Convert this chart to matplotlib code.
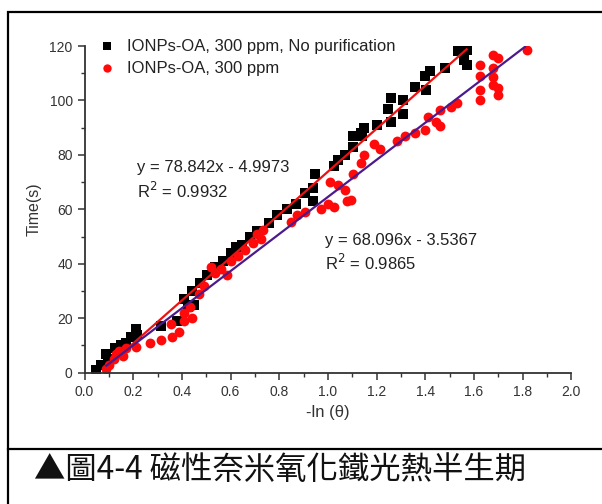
import matplotlib.pyplot as plt
import numpy as np
from matplotlib.patches import Rectangle
from matplotlib.lines import Line2D
from matplotlib.ticker import MultipleLocator

plt.rcParams['font.family'] = ['Liberation Sans', 'DejaVu Sans']

# IONPs-OA, 300 ppm, No purification (black squares)
x_np = [0.047, 0.066, 0.09, 0.095, 0.126, 0.15, 0.17, 0.19, 0.21, 0.216,
        0.315, 0.38, 0.41, 0.426, 0.44, 0.45, 0.473, 0.505, 0.536, 0.568,
        0.60, 0.623, 0.647, 0.678, 0.71, 0.757, 0.789, 0.83, 0.867, 0.907,
        0.94, 0.946, 0.94, 1.025, 1.04, 1.07, 1.105, 1.105, 1.136, 1.15,
        1.14, 1.20, 1.246, 1.26, 1.26, 1.31, 1.31, 1.356, 1.40, 1.404,
        1.42, 1.48, 1.535, 1.56, 1.57, 1.57]
y_np = [1, 3, 7, 5, 9, 10, 11, 13, 16, 14,
        17, 19, 27, 24, 30, 25, 33, 36, 39, 41,
        44, 46, 47, 50, 52, 55, 58, 60, 62, 66,
        68, 73, 63, 76, 78, 80, 83, 87, 88, 90,
        87, 91, 97, 101, 92, 100, 95, 105, 109, 104,
        111, 112, 118, 115, 118.5, 113]

# IONPs-OA, 300 ppm (red circles)
x_oa = [0.087, 0.10, 0.12, 0.13, 0.14, 0.158, 0.17, 0.21, 0.27, 0.315,
        0.36, 0.355, 0.39, 0.41, 0.41, 0.44, 0.435, 0.47, 0.49, 0.52,
        0.536, 0.56, 0.584, 0.60, 0.63, 0.66, 0.694, 0.71, 0.733, 0.726,
        0.85, 0.875, 0.907, 0.97, 1.0, 1.01, 1.025, 1.04, 1.07, 1.08,
        1.096, 1.105, 1.136, 1.15, 1.19, 1.215, 1.285, 1.317, 1.356, 1.40,
        1.41, 1.46, 1.46, 1.443, 1.506, 1.53, 1.625, 1.625, 1.625, 1.625,
        1.68, 1.68, 1.68, 1.68, 1.70, 1.70, 1.70, 1.82]
y_oa = [1.5, 3, 5, 7, 8, 6, 9, 9.5, 11, 12,
        13, 18, 15, 19, 22, 20, 24, 29, 32, 39,
        36.5, 38, 36, 41, 43, 45, 47.5, 51, 52.5, 49,
        55.5, 58, 59, 60, 62, 70, 61, 69, 67, 63,
        63.5, 73, 77, 80, 84, 82, 85, 87, 88, 89,
        94, 96.5, 90.5, 92, 97.7, 99, 113, 109, 104, 100,
        116.7, 112, 108.7, 105.7, 115.5, 104.5, 102, 118.5]

# linear fits shown on the chart
fit_np = (78.842, -4.9973)
fit_oa = (68.096, -3.5367)
fit_np_range = [0.08, 1.57]
fit_oa_range = [0.09, 1.81]

fig = plt.figure(figsize=(6.02, 5.04), dpi=100)

# outer frame and caption separator
fig.patches.append(Rectangle((8 / 602, -0.01), 1.0, 1 - 12 / 504 + 0.01,
                             transform=fig.transFigure, fill=False,
                             edgecolor='black', linewidth=1.6))
fig.lines.append(Line2D([8 / 602, 1.0], [1 - 449 / 504, 1 - 449 / 504],
                        transform=fig.transFigure, color='black', linewidth=1.6))

ax = fig.add_axes([0.1404, 0.2605, 0.8085, 0.6482])

ax.scatter(x_np, y_np, marker='s', s=42, color='black', linewidths=0,
           label='IONPs-OA, 300 ppm, No purification', zorder=2)
ax.scatter(x_oa, y_oa, marker='o', s=50, color='#ff0a0a', linewidths=0,
           label='IONPs-OA, 300 ppm', zorder=2)

xf = np.array(fit_np_range)
ax.plot(xf, fit_np[0] * xf + fit_np[1], color='#ee1111', linewidth=1.6, zorder=3)
xf = np.array(fit_oa_range)
ax.plot(xf, fit_oa[0] * xf + fit_oa[1], color='#4b1a8c', linewidth=1.6, zorder=3)

ax.set_xlim(0, 2.0)
ax.set_ylim(0, 120)
ax.set_xticks(np.arange(0, 2.01, 0.2))
ax.set_xticklabels([f'{v:.1f}' for v in np.arange(0, 2.01, 0.2)])
ax.xaxis.set_minor_locator(MultipleLocator(0.1))
ax.yaxis.set_major_locator(MultipleLocator(20))
ax.yaxis.set_minor_locator(MultipleLocator(10))

for s in ['top', 'right']:
    ax.spines[s].set_visible(False)
for s in ['left', 'bottom']:
    ax.spines[s].set_color('#333333')
    ax.spines[s].set_linewidth(1.3)
ax.tick_params(which='major', direction='out', length=5, width=1.1,
               color='#333333', labelsize=10, labelcolor='#333333')
ax.tick_params(which='minor', direction='out', length=3, width=1.0, color='#333333')

ax.set_xlabel('-ln (\u03b8)', fontsize=12, color='#333333', labelpad=5)
ax.set_ylabel('Time(s)', fontsize=11.5, color='#333333', labelpad=6)

ax.legend(loc='upper left', bbox_to_anchor=(0.026, 1.022), frameon=False,
          fontsize=12, handletextpad=0.6, labelspacing=0.42, borderaxespad=0,
          borderpad=0, labelcolor='#222222', markerscale=0.85, handlelength=1.2)

ax.text(0.108, 0.627, 'y = 78.842x - 4.9973', transform=ax.transAxes,
        fontsize=12, color='#222222', va='center')
ax.text(0.108, 0.556, 'R$^{2}$ = 0.9932', transform=ax.transAxes,
        fontsize=12, color='#222222', va='center')
ax.text(0.495, 0.406, 'y = 68.096x - 3.5367', transform=ax.transAxes,
        fontsize=12, color='#222222', va='center')
ax.text(0.495, 0.336, 'R$^{2}$ = 0.9865', transform=ax.transAxes,
        fontsize=12, color='#222222', va='center')

fig.text(34 / 602, 1 - 470 / 504, '\u25b2圖4-4 磁性奈米氧化鐵光熱半生期',
         family=['Noto Sans CJK TC', 'DejaVu Sans'], fontweight='light',
         fontsize=22.6, color='#111111', va='center', ha='left')

fig.savefig('out.png', dpi=100)
